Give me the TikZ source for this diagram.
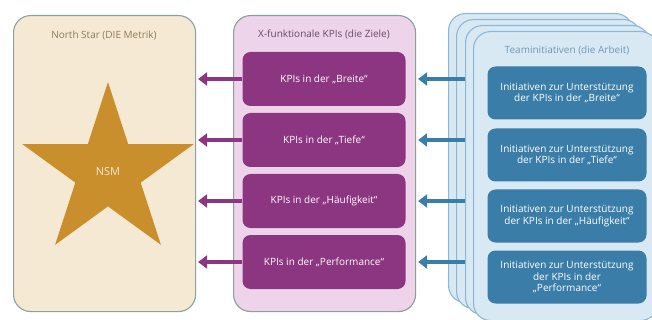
\documentclass[tikz,border=0pt]{standalone}
\usepackage{fontspec}
\setmainfont{Open Sans}
\usetikzlibrary{arrows.meta,shapes.geometric,positioning}
\definecolor{sand}{HTML}{F6E9D4}
\definecolor{sandline}{HTML}{8AA39D}
\definecolor{gold}{HTML}{C98F2C}
\definecolor{sandtext}{HTML}{8C7B5E}
\definecolor{rose}{HTML}{EED4EB}
\definecolor{roseline}{HTML}{8E9C9A}
\definecolor{plum}{HTML}{8C3580}
\definecolor{plumtext}{HTML}{6A4A68}
\definecolor{ice}{HTML}{D9E9F4}
\definecolor{iceline}{HTML}{8DB7D4}
\definecolor{ocean}{HTML}{3B7DA9}
\definecolor{icetext}{HTML}{6E98BB}

\begin{document}
\begin{tikzpicture}[x=1pt, y=-1pt,
    font=\fontsize{10}{11.6}\selectfont,
    panel/.style={draw, line width=1.1pt, rounded corners=17pt, anchor=north west,
        minimum width=182pt, minimum height=296pt},
    card/.style={draw=iceline, fill=ice, line width=1.1pt, rounded corners=17pt,
        anchor=north west, minimum width=184pt, minimum height=289pt},
    kpi/.style={fill=plum, text=white, rounded corners=8pt, minimum width=163pt,
        minimum height=54pt, inner sep=0pt},
    ini/.style={fill=ocean, text=white, rounded corners=8pt, minimum width=159pt,
        minimum height=53pt, inner sep=0pt, align=center},
    plumarr/.style={draw=plum, line width=4.5pt, -{Triangle[width=13pt,length=9pt]}, shorten >=2pt},
    oceanarr/.style={draw=ocean, line width=4.5pt, -{Triangle[width=13pt,length=9pt]}, shorten >=2pt}
]
    \useasboundingbox (0, 0) rectangle (652, 320);

    % North Star
    \node[panel, draw=sandline, fill=sand] (north) at (13, 15) {};
    \node[text=sandtext] (northtitle) at (104, 35) {North Star (DIE Metrik)};
    \node[star, star points=5, star point ratio=2.618, minimum size=180pt,
        inner sep=0pt, fill=gold, text=sand, font=\fontsize{11}{13}\selectfont]
        (nsm) at (108, 172) {NSM};

    % KPIs
    \node[panel, draw=roseline, fill=rose] (ziele) at (233, 15) {};
    \node[text=plumtext] (zieletitle) at (324, 34) {X-funktionale KPIs (die Ziele)};
    \node[kpi] (kpi1) at (324, 79) {KPIs in der „Breite“};
    \node[kpi] (kpi2) at (324, 140) {KPIs in der „Tiefe“};
    \node[kpi] (kpi3) at (324, 201) {KPIs in der „Häufigkeit“};
    \node[kpi] (kpi4) at (324, 262) {KPIs in der „Performance“};

    % Teaminitiativen
    \node[card] (team1) at (448, 13) {};
    \node[card] (team2) at (456, 19) {};
    \node[card] (team3) at (465, 25) {};
    \node[card] (team4) at (473, 31) {};
    \node[text=icetext] (teamtitle) at (567, 50) {Teaminitiativen (die Arbeit)};
    \node[ini] (ini1) at (567, 93) {Initiativen zur Unterstützung\\der KPIs in der „Breite“};
    \node[ini] (ini2) at (567, 155) {Initiativen zur Unterstützung\\der KPIs in der „Tiefe“};
    \node[ini] (ini3) at (567, 216) {Initiativen zur Unterstützung\\der KPIs in der „Häufigkeit“};
    \node[ini] (ini4) at (567, 277) {Initiativen zur Unterstützung\\der KPIs in der\\„Performance“};

    \foreach \k in {1,...,4} {
        \draw[plumarr] (kpi\k.west) -- (kpi\k.west -| north.east);
        \draw[oceanarr] (kpi\k -| team3.west) -- (kpi\k -| ziele.east);
    }
\end{tikzpicture}
\end{document}
